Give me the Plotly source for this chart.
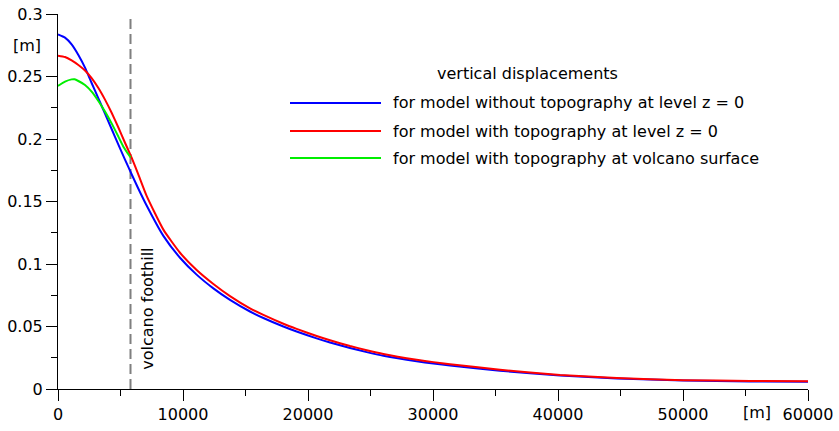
import plotly.graph_objects as go

# Distance from the volcano axis [m]
x_main = [0, 560, 1090, 1630, 2160, 2690, 3230, 3760, 4290, 4830, 5360, 5890,
          6430, 7090, 8430, 9760, 11090, 12430, 13760, 15360, 16430, 18030,
          19090, 20690, 21760, 23360, 24700, 26030, 28690, 30030, 31360, 35360,
          40160, 44700, 50030, 55360, 60000]

# Vertical displacement [m], model without topography, level z = 0
uz_flat = [0.2837, 0.2811, 0.2757, 0.2672, 0.2571, 0.2448, 0.2325, 0.2203,
           0.2080, 0.1955, 0.1835, 0.1718, 0.1602, 0.1468, 0.1225, 0.1050,
           0.0915, 0.0805, 0.0713, 0.0620, 0.0568, 0.0500, 0.0460, 0.0405,
           0.0372, 0.0328, 0.0295, 0.0266, 0.0222, 0.0204, 0.0188, 0.0146,
           0.0108, 0.0084, 0.0068, 0.0061, 0.0058]

# Vertical displacement [m], model with topography, level z = 0
uz_topo = [0.2667, 0.2656, 0.2629, 0.2592, 0.2548, 0.2487, 0.2408, 0.2315,
           0.2210, 0.2092, 0.1970, 0.1850, 0.1715, 0.1545, 0.1275, 0.1090,
           0.0952, 0.0840, 0.0743, 0.0645, 0.0593, 0.0522, 0.0481, 0.0424,
           0.0390, 0.0344, 0.0310, 0.0280, 0.0234, 0.0215, 0.0198, 0.0154,
           0.0113, 0.0088, 0.0071, 0.0064, 0.0062]

# Vertical displacement [m], model with topography, on the volcano surface
x_surf = [0, 560, 1090, 1330, 1630, 2160, 2690, 3230, 3760, 4290, 4830, 5230, 5810]
uz_surf = [0.2424, 0.2459, 0.2477, 0.2478, 0.2464, 0.2432, 0.2379, 0.2304,
           0.2219, 0.2125, 0.2019, 0.1939, 0.1852]

foothill_x = 5800

series_names = [
    "for model without topography at level z = 0",
    "for model with topography at level z = 0",
    "for model with topography at volcano surface",
]
series_colors = ["#0000ff", "#ff0000", "#00ee00"]
legend_title = "vertical displacements"

FONT = "DejaVu Sans, Verdana, sans-serif"

fig = go.Figure()
for xs, ys, name, color in [(x_main, uz_flat, series_names[0], series_colors[0]),
                            (x_main, uz_topo, series_names[1], series_colors[1]),
                            (x_surf, uz_surf, series_names[2], series_colors[2])]:
    fig.add_trace(go.Scatter(x=xs, y=ys, mode="lines", line_shape="spline",
                             line=dict(color=color, width=2, smoothing=0.5), name=name))

# volcano foothill marker
fig.add_shape(type="line", xref="x", yref="y", x0=foothill_x, x1=foothill_x, y0=0, y1=0.2985,
              line=dict(color="#7f7f7f", width=2, dash="10px,5px"), layer="below")
fig.add_annotation(x=foothill_x + 1300, y=0.064, xref="x", yref="y", text="volcano foothill",
                   textangle=-90, showarrow=False, font=dict(size=16, color="black", family=FONT))

# legend drawn as a block: title, sample lines and labels
leg_x0, leg_x1, txt_x = (290 - 58) / 750, (381 - 58) / 750, (391 - 58) / 750
leg_ys = [(389 - 103) / 375, (389 - 131) / 375, (389 - 158) / 375]
fig.add_annotation(x=(527 - 58) / 750, y=(389 - 73) / 375, xref="paper", yref="paper",
                   text=legend_title, showarrow=False, xanchor="center", yanchor="middle",
                   font=dict(size=16, color="black", family=FONT))
for name, color, ly in zip(series_names, series_colors, leg_ys):
    fig.add_shape(type="line", xref="paper", yref="paper", x0=leg_x0, x1=leg_x1, y0=ly, y1=ly,
                  line=dict(color=color, width=2))
    fig.add_annotation(x=txt_x, y=ly, xref="paper", yref="paper", text=name, showarrow=False,
                       xanchor="left", yanchor="middle",
                       font=dict(size=16, color="black", family=FONT))

# unit labels on the axes
fig.add_annotation(x=-0.02, y=0.2745, xref="paper", yref="y", text="[m]", showarrow=False,
                   xanchor="right", yanchor="middle", font=dict(size=16, color="black", family=FONT))
fig.add_annotation(x=55900, y=0, xref="x", yref="paper", text="[m]", showarrow=False,
                   xanchor="center", yanchor="top", yshift=-12,
                   font=dict(size=16, color="black", family=FONT))

fig.update_xaxes(range=[0, 60000], dtick=10000, tick0=0, tickformat="d", automargin=False,
                 showgrid=False, zeroline=False, showline=True, linecolor="black", linewidth=1,
                 ticks="outside", ticklen=11, tickcolor="black", tickwidth=1,
                 minor=dict(ticks="outside", ticklen=6, tickcolor="black", dtick=5000,
                            tick0=0, showgrid=False),
                 tickfont=dict(size=16, color="black", family=FONT))
fig.update_yaxes(range=[0, 0.3], dtick=0.05, tick0=0, automargin=False,
                 showgrid=False, zeroline=False, showline=True, linecolor="black", linewidth=1,
                 ticks="outside", ticklen=11, tickcolor="black", tickwidth=1,
                 minor=dict(ticks="outside", ticklen=6, tickcolor="black",
                            tickmode="array", tickvals=[0.025, 0.075, 0.125, 0.175, 0.225],
                            showgrid=False),
                 tickfont=dict(size=16, color="black", family=FONT))

fig.update_layout(width=839, height=431, showlegend=False,
                  margin=dict(l=58, r=31, t=14, b=42),
                  plot_bgcolor="white", paper_bgcolor="white",
                  font=dict(family=FONT, size=16, color="black"))

fig.write_html("out.html")
